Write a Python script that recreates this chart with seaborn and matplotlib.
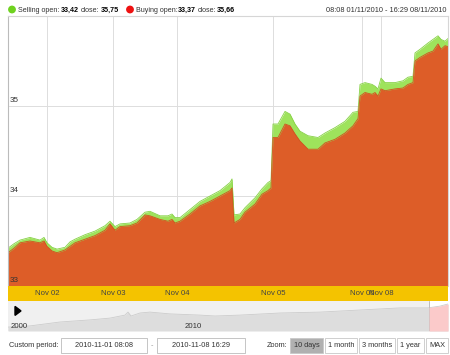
import matplotlib
matplotlib.use('Agg')
import matplotlib.pyplot as plt
import seaborn as sns
import pandas as pd
from matplotlib.patches import Rectangle, Circle, Polygon

# session position (ordinal trading axis), selling and buying prices
pos = [0, 6, 12, 22, 32, 36, 39, 44, 49, 57, 62, 67, 77, 87, 97, 102, 107, 112,
       122, 129, 137, 142, 152, 160, 164, 167, 172, 182, 192, 202, 212, 222, 224,
       226, 232, 237, 247, 254, 260, 263, 265, 270, 277, 282, 287, 292, 300, 310,
       317, 327, 337, 345, 350, 352, 357, 364, 367, 370, 373, 377, 387, 395, 400,
       405, 407, 412, 420, 425, 430, 433, 437, 440]
selling = [33.42, 33.47, 33.51, 33.54, 33.51, 33.54, 33.48, 33.43, 33.41, 33.43,
           33.49, 33.52, 33.57, 33.61, 33.67, 33.72, 33.66, 33.69, 33.70, 33.74,
           33.82, 33.83, 33.78, 33.78, 33.80, 33.76, 33.76, 33.85, 33.94, 34.00,
           34.06, 34.15, 34.19, 33.79, 33.80, 33.87, 33.98, 34.08, 34.15, 34.17,
           34.80, 34.80, 34.94, 34.91, 34.80, 34.72, 34.67, 34.65, 34.70, 34.76,
           34.83, 34.93, 34.94, 35.24, 35.26, 35.24, 35.22, 35.19, 35.31, 35.26,
           35.26, 35.28, 35.32, 35.33, 35.59, 35.63, 35.70, 35.74, 35.78, 35.74,
           35.72, 35.75]
buying = [33.37, 33.42, 33.48, 33.50, 33.48, 33.50, 33.44, 33.39, 33.37, 33.40,
          33.44, 33.48, 33.52, 33.56, 33.62, 33.69, 33.62, 33.66, 33.67, 33.70,
          33.79, 33.78, 33.74, 33.72, 33.74, 33.70, 33.72, 33.80, 33.89, 33.94,
          34.00, 34.06, 34.09, 33.70, 33.74, 33.82, 33.91, 34.02, 34.06, 34.09,
          34.65, 34.65, 34.80, 34.78, 34.69, 34.61, 34.52, 34.52, 34.59, 34.63,
          34.70, 34.78, 34.86, 35.11, 35.15, 35.13, 35.15, 35.11, 35.19, 35.17,
          35.19, 35.20, 35.24, 35.26, 35.50, 35.54, 35.59, 35.61, 35.69, 35.63,
          35.67, 35.66]

tick_pos = [39, 105, 169, 265, 354, 373]
tick_labels = ['Nov 02', 'Nov 03', 'Nov 04', 'Nov 05', 'Nov 06', 'Nov 08']
y_ticks = [33, 34, 35]

# navigator overview series
nav_pos = [0, 22, 52, 82, 102, 117, 120, 123, 132, 142, 162, 192, 207, 232,
           272, 312, 352, 392, 420, 432, 440]
nav_vals = [0.13, 0.17, 0.30, 0.37, 0.43, 0.53, 0.63, 0.50, 0.60, 0.63, 0.57,
            0.53, 0.50, 0.53, 0.60, 0.63, 0.70, 0.77, 0.77, 0.83, 0.90]

df = pd.DataFrame({'pos': pos, 'Selling': selling, 'Buying': buying})
nav = pd.DataFrame({'pos': nav_pos, 'val': nav_vals})

sns.set_theme(style='white')
plt.rcParams['font.family'] = ['Liberation Sans', 'DejaVu Sans']

ORANGE = '#dd5d28'
GREEN = '#9ee35c'
TXT = '#333333'

fig = plt.figure(figsize=(4.5, 3.55), dpi=100)
fig.patch.set_facecolor('white')

# main price chart
ax = fig.add_axes([8 / 450, 69 / 355, 440 / 450, 270 / 355])
ax.fill_between(df['pos'], 33, df['Selling'], color=GREEN, lw=0)
sns.lineplot(data=df, x='pos', y='Selling', ax=ax, color='#86d145', lw=0.6)
ax.fill_between(df['pos'], 33, df['Buying'], color=ORANGE, lw=0)
sns.lineplot(data=df, x='pos', y='Buying', ax=ax, color='#d0521f', lw=0.6)
ax.set_xlim(0, 440)
ax.set_ylim(33, 36)
ax.set_xticks(tick_pos)
ax.set_yticks(y_ticks)
ax.grid(True, color='#dddddd', lw=0.7)
ax.set_axisbelow(True)
ax.tick_params(labelbottom=False, labelleft=False, length=0)
ax.set_xlabel('')
ax.set_ylabel('')
for s in ax.spines.values():
    s.set_color('#d6d6d6')
    s.set_linewidth(0.8)
ax.spines['left'].set_color('#bbbbbb')
ax.spines['bottom'].set_visible(False)
for v in y_ticks:
    ax.text(1.5, v + 0.02, str(v), fontsize=5.8, color=TXT, va='bottom', ha='left')

# yellow time band
band = fig.add_axes([8 / 450, 54 / 355, 440 / 450, 15 / 355])
band.set_facecolor('#f4c300')
band.set_xlim(0, 440)
band.set_ylim(0, 1)
band.set_xticks([])
band.set_yticks([])
for s in band.spines.values():
    s.set_visible(False)
for p, lab in zip(tick_pos, tick_labels):
    band.text(p, 0.5, lab, fontsize=5.6, color='#444444', ha='center', va='center')

# navigator
nv = fig.add_axes([8 / 450, 24 / 355, 440 / 450, 30 / 355])
nv.set_facecolor('#f0f0f0')
nv.fill_between(nav['pos'], 0, nav['val'], color='#dddddd', lw=0)
sns.lineplot(data=nav, x='pos', y='val', ax=nv, color='#cccccc', lw=0.6)
sel = nav[nav['pos'] >= 421]
nv.add_patch(Rectangle((421, 0), 19, 1, color='white', zorder=0.5))
nv.fill_between([421] + list(sel['pos']), 0, [0.79] + list(sel['val']), color='#fbcaca', lw=0, zorder=3)
nv.axvline(421, color='#bbbbbb', lw=0.7)
nv.set_xlim(0, 440)
nv.set_ylim(0, 1)
nv.set_xticks([])
nv.set_yticks([])
nv.set_xlabel('')
nv.set_ylabel('')
for s in nv.spines.values():
    s.set_visible(False)
nv.text(3, 0.15, '2000', fontsize=5.6, color=TXT, va='center')
nv.text(177, 0.15, '2010', fontsize=5.6, color=TXT, va='center')
nv.add_patch(Polygon([(7, 0.82), (7, 0.52), (13, 0.67)], closed=True, color='black'))

# overlay for header and controls (pixel coordinates)
ui = fig.add_axes([0, 0, 1, 1], zorder=-1)
ui.set_xlim(0, 450)
ui.set_ylim(355, 0)
ui.axis('off')

fs = 5.1
ui.add_patch(Circle((12, 9.5), 3.2, color='#6fd21f'))
ui.text(18, 10, 'Selling open:', fontsize=fs, color=TXT, va='center')
ui.text(60.5, 10, '33,42', fontsize=fs, color='black', va='center', weight='bold')
ui.text(81, 10, 'close:', fontsize=fs, color=TXT, va='center')
ui.text(100.5, 10, '35,75', fontsize=fs, color='black', va='center', weight='bold')
ui.add_patch(Circle((130, 9.5), 3.2, color='#ee1111'))
ui.text(136, 10, 'Buying open:', fontsize=fs, color=TXT, va='center')
ui.text(178, 10, '33,37', fontsize=fs, color='black', va='center', weight='bold')
ui.text(198, 10, 'close:', fontsize=fs, color=TXT, va='center')
ui.text(217, 10, '35,66', fontsize=fs, color='black', va='center', weight='bold')
ui.text(446, 10, '08:08 01/11/2010 - 16:29 08/11/2010', fontsize=5.3, color=TXT,
        va='center', ha='right')

fs = 5.3
ui.text(9, 345.5, 'Custom period:', fontsize=fs, color=TXT, va='center')
for x0, x1, lab in [(61, 147, '2010-11-01 08:08'), (157, 245, '2010-11-08 16:29')]:
    ui.add_patch(Rectangle((x0, 338), x1 - x0, 15, fc='white', ec='#bbbbbb', lw=0.6))
    ui.text((x0 + x1) / 2, 345.5, lab, fontsize=fs, color=TXT, va='center', ha='center')
ui.text(152, 345.5, '-', fontsize=fs, color='#999999', va='center', ha='center')
ui.text(267, 345.5, 'Zoom:', fontsize=fs, color=TXT, va='center')
buttons = [(290, 323, '10 days'), (325, 357, '1 month'), (359, 395, '3 months'),
           (397, 424, '1 year'), (426, 448, 'MAX')]
for i, (x0, x1, lab) in enumerate(buttons):
    fc = '#b0b0b0' if i == 0 else 'white'
    ui.add_patch(Rectangle((x0, 338), x1 - x0, 15, fc=fc, ec='#c8c8c8', lw=0.6))
    ui.text((x0 + x1) / 2, 345.5, lab, fontsize=fs, color=TXT, va='center', ha='center')

fig.savefig('out.png', dpi=100)
